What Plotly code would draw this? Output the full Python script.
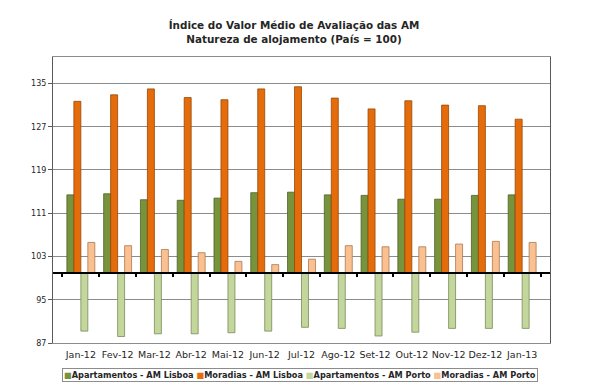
import plotly.graph_objects as go

months = ["Jan-12", "Fev-12", "Mar-12", "Abr-12", "Mai-12", "Jun-12", "Jul-12",
          "Ago-12", "Set-12", "Out-12", "Nov-12", "Dez-12", "Jan-13"]

apart_lisboa = [114.4, 114.6, 113.5, 113.4, 113.8, 114.8, 114.9, 114.4, 114.3, 113.6, 113.6, 114.3, 114.4]
morad_lisboa = [131.7, 132.9, 134.0, 132.4, 132.0, 134.0, 134.4, 132.3, 130.3, 131.8, 131.0, 130.9, 128.4]
apart_porto = [89.2, 88.2, 88.7, 88.7, 88.9, 89.2, 89.9, 89.7, 88.3, 89.0, 89.7, 89.7, 89.7]
morad_porto = [105.6, 105.0, 104.3, 103.7, 102.1, 101.5, 102.5, 105.0, 104.8, 104.8, 105.3, 105.8, 105.6]

series_names = ["Apartamentos - AM Lisboa", "Moradias - AM Lisboa",
                "Apartamentos - AM Porto", "Moradias - AM Porto"]
series_values = [apart_lisboa, morad_lisboa, apart_porto, morad_porto]
fill_colors = ["#77933C", "#E46C0A", "#C3D69B", "#FAC090"]
edge_colors = ["#4F6228", "#984807", "#7A8A5A", "#A87A55"]

BASE = 100          # Portugal = 100 (horizontal axis crosses here)
Y_MIN, Y_MAX = 87, 139.9
title_text = "<b>Índice do Valor Médio de Avaliação das AM<br>Natureza de alojamento (País = 100)</b>"

FONT = "DejaVu Sans"
TXT = "#262626"

# page body has an 8px default margin, so the figure is sized to fit the window
W, H = 602, 379
M_L, M_R, M_T, M_B = 45, 60, 49, 44
plot_h = H - M_T - M_B

fig = go.Figure()
for name, vals, fc, ec in zip(series_names, series_values, fill_colors, edge_colors):
    fig.add_trace(go.Bar(
        x=months, y=[v - BASE for v in vals], base=BASE, name=name,
        marker=dict(color=fc, line=dict(color=ec, width=0.8)),
        showlegend=False,
    ))

# invisible helper trace so that the baseline axis (x2) knows the categories
fig.add_trace(go.Scatter(x=months, y=[BASE] * len(months), xaxis="x2", mode="markers",
                         marker=dict(size=1, opacity=0), hoverinfo="skip", showlegend=False))

base_pos = (BASE - Y_MIN) / (Y_MAX - Y_MIN)

legend_html = " ".join(
    f'<span style="color:{c}">■</span>{n}' for n, c in zip(series_names, fill_colors)
)

fig.update_layout(
    width=W, height=H,
    margin=dict(l=M_L, r=M_R, t=M_T, b=M_B, autoexpand=False),
    paper_bgcolor="white", plot_bgcolor="white",
    barmode="group", bargap=0.24, bargroupgap=0,
    font=dict(family=FONT, size=9, color=TXT),
    title=dict(text=title_text, x=286 / W, xanchor="center", y=(H - 21) / H,
               yanchor="middle", yref="container",
               font=dict(family=FONT, size=10.4, color=TXT)),
    xaxis=dict(
        type="category", categoryorder="array", categoryarray=months, automargin=False,
        showgrid=False, ticks="", showline=True, linecolor="#8c8c8c", linewidth=1, mirror=True,
        ticklabelstandoff=3,
        tickfont=dict(family=FONT, size=9.5, color=TXT),
    ),
    xaxis2=dict(
        type="category", categoryorder="array", categoryarray=months, automargin=False,
        overlaying="x", matches="x", anchor="free", position=base_pos,
        showgrid=False, showticklabels=False, showline=True, linecolor="black", linewidth=2,
        ticks="outside", ticklen=3, tickwidth=1.5, tickcolor="black", tickson="boundaries",
    ),
    yaxis=dict(
        range=[Y_MIN, Y_MAX], tick0=Y_MIN, dtick=8, automargin=False,
        showgrid=True, gridcolor="#8c8c8c", gridwidth=1,
        showline=True, linecolor="#595959", linewidth=1, mirror=True,
        ticks="outside", ticklen=4, tickcolor="#595959",
        zeroline=False,
        tickfont=dict(family=FONT, size=8, color=TXT),
    ),
    annotations=[dict(
        text=f"<b>{legend_html}</b>", xref="paper", yref="paper",
        x=(292 - M_L) / (W - M_L - M_R), y=-(366.5 - (H - M_B)) / plot_h,
        xanchor="center", yanchor="middle",
        showarrow=False,
        font=dict(family=FONT, size=8.2, color=TXT),
        bordercolor="#8c8c8c", borderwidth=1, borderpad=1, bgcolor="white",
    )],
)

fig.write_html("out.html")
